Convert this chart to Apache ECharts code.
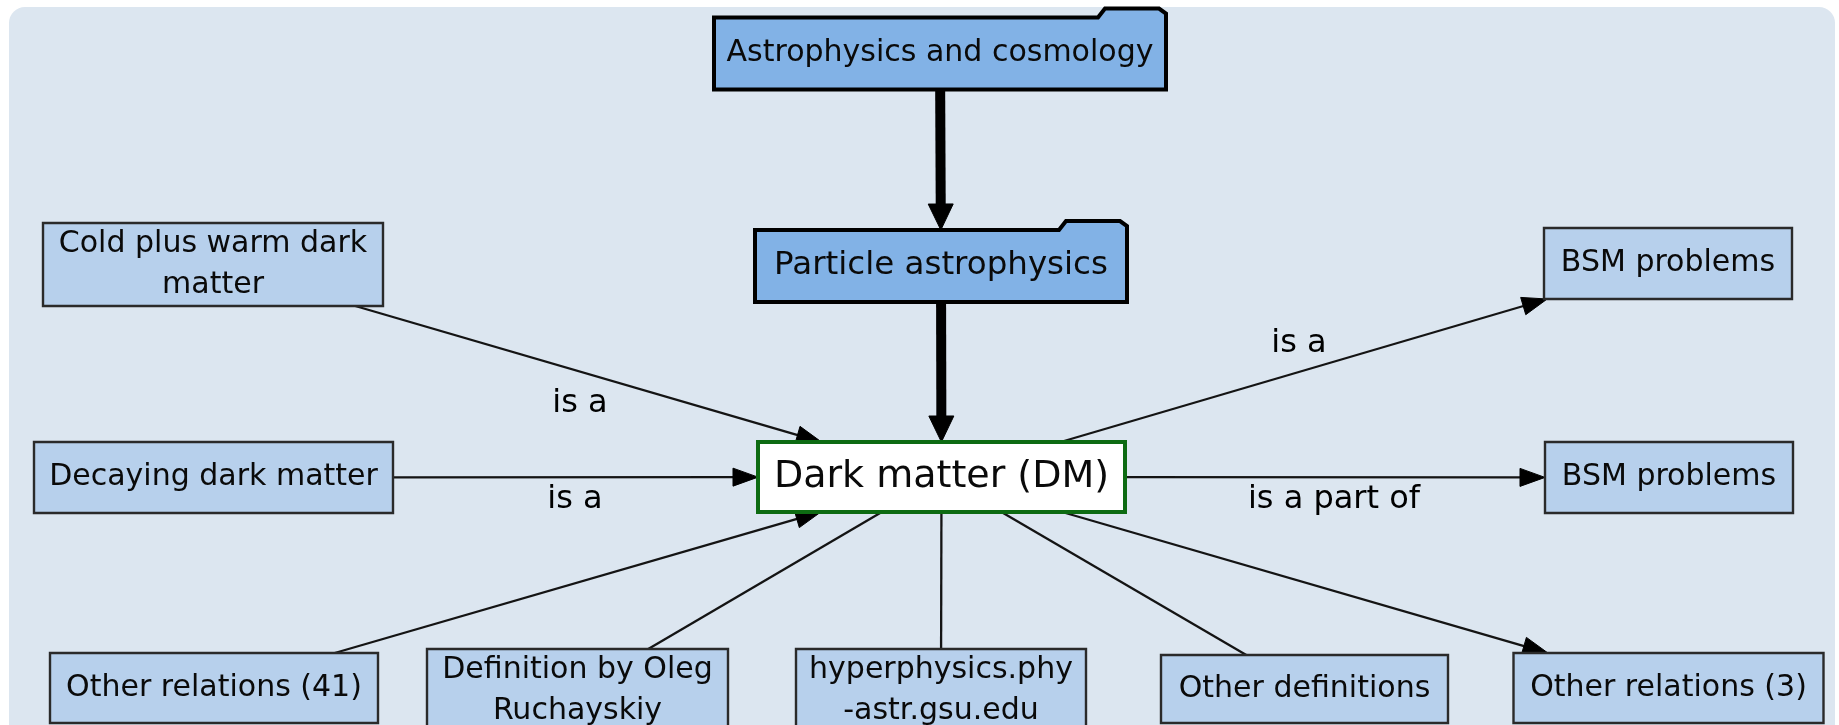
<!DOCTYPE html>
<html>
<head>
<meta charset="utf-8">
<script src="https://cdn.jsdelivr.net/npm/echarts@6/dist/echarts.min.js"></script>
<style>
html,body{margin:0;padding:0;background:#ffffff;}
#chart{width:1839px;height:725px;}
</style>
</head>
<body>
<div id="chart"></div>
<script>
// ---- data ----
var nodeNames = [
  'Astrophysics and cosmology',
  'Particle astrophysics',
  'Dark matter (DM)',
  'Cold plus warm dark\nmatter',
  'Decaying dark matter',
  'BSM problems',
  'BSM problems',
  'Other relations (41)',
  'Definition by Oleg\nRuchayskiy',
  'hyperphysics.phy\n-astr.gsu.edu',
  'Other definitions',
  'Other relations (3)'
];
var nodeKind = ['folder','folder','focus','plain','plain','plain','plain','plain','plain','plain','plain','plain'];
// node centres in diagram units
var nodeX = [940, 941, 941.5, 213, 213.5, 1668, 1669, 214, 577.5, 941, 1304.5, 1668.5];
var nodeY = [53.5, 266, 477, 264.5, 477.5, 263.5, 477.5, 688, 690.5, 690.5, 689, 688];
// edges: from, to, label, arrow, heavy
var edgeFrom  = [0, 1, 3, 4, 7, 2, 2, 2, 2, 2, 2];
var edgeTo    = [1, 2, 2, 2, 2, 8, 9, 10, 11, 5, 6];
var edgeLabel = ['', '', 'is a', 'is a', '', '', '', '', '', 'is a', 'is a part of'];
var edgeArrow = [1, 1, 1, 1, 1, 0, 0, 0, 1, 1, 1];
var edgeHeavy = [1, 1, 0, 0, 0, 0, 0, 0, 0, 0, 0];
var labelX = [0, 0, 580, 575, 0, 0, 0, 0, 0, 1299, 1334];
var labelY = [0, 0, 404, 500, 0, 0, 0, 0, 0, 344, 500];

// ---- styles / sizes ----
var boxW = [452, 372, 367, 340, 359, 248, 248, 328, 301, 290, 287, 310];
var boxH = [72, 72, 70, 83, 71, 71, 71, 70, 83, 83, 68, 70];
var boxFont = [30, 32.5, 38, 30, 30, 30, 30, 30, 30, 30, 30, 30];
var FONT = '"DejaVu Sans", "Noto Sans", sans-serif';

function clipPt(cx, cy, hw, hh, dx, dy) {
  var tx = dx === 0 ? Infinity : hw / Math.abs(dx);
  var ty = dy === 0 ? Infinity : hh / Math.abs(dy);
  var t = Math.min(tx, ty);
  return [cx + dx * t, cy + dy * t];
}

var chart = echarts.init(document.getElementById('chart'), null, {renderer: 'canvas'});

var edgeData = edgeFrom.map(function (f, i) { return [i]; });
var nodeData = nodeNames.map(function (n, i) { return [nodeX[i], nodeY[i], i]; });

chart.setOption({
  animation: false,
  backgroundColor: '#ffffff',
  graphic: [{
    type: 'rect', z: -10, silent: true,
    shape: {x: 9, y: 7, width: 1826, height: 760, r: 16},
    style: {fill: '#dce6f0'}
  }],
  grid: {left: 0, right: 0, top: 0, bottom: 0},
  xAxis: {type: 'value', min: 0, max: 1839, show: false},
  yAxis: {type: 'value', min: 0, max: 725, inverse: true, show: false},
  series: [
    {
      type: 'custom',
      z: 1,
      data: edgeData,
      renderItem: function (params, api) {
        var i = api.value(0);
        var a = edgeFrom[i], b = edgeTo[i];
        var pa = api.coord([nodeX[a], nodeY[a]]);
        var pb = api.coord([nodeX[b], nodeY[b]]);
        var dx = pb[0] - pa[0], dy = pb[1] - pa[1];
        var s = clipPt(pa[0], pa[1], boxW[a] / 2, boxH[a] / 2, dx, dy);
        var e = clipPt(pb[0], pb[1], boxW[b] / 2, boxH[b] / 2, -dx, -dy);
        var len = Math.sqrt(dx * dx + dy * dy);
        var ux = dx / len, uy = dy / len;
        var heavy = edgeHeavy[i] === 1;
        var lw = heavy ? 10 : 2.3;
        var aL = heavy ? 26 : 25;
        var aW = heavy ? 25 : 18;
        var children = [];
        var lineEnd = e;
        if (edgeArrow[i]) {
          lineEnd = [e[0] - ux * (aL - 2), e[1] - uy * (aL - 2)];
          var bx = e[0] - ux * aL, by = e[1] - uy * aL;
          var px = -uy * aW / 2, py = ux * aW / 2;
          children.push({
            type: 'polygon', z2: 2,
            shape: {points: [[e[0], e[1]], [bx + px, by + py], [bx - px, by - py]]},
            style: {fill: '#000000', stroke: '#000000', lineWidth: 1}
          });
        }
        children.push({
          type: 'line', z2: 1,
          shape: {x1: s[0], y1: s[1], x2: lineEnd[0], y2: lineEnd[1]},
          style: {stroke: heavy ? '#000000' : '#141414', lineWidth: lw}
        });
        if (edgeLabel[i]) {
          var lp = api.coord([labelX[i], labelY[i]]);
          children.push({
            type: 'text', z2: 3,
            x: lp[0], y: lp[1],
            style: {
              text: edgeLabel[i], fill: '#000000',
              font: '32px ' + FONT,
              align: 'center', verticalAlign: 'middle'
            }
          });
        }
        return {type: 'group', children: children};
      }
    },
    {
      type: 'custom',
      z: 2,
      data: nodeData,
      encode: {x: 0, y: 1},
      renderItem: function (params, api) {
        var i = api.value(2);
        var c = api.coord([api.value(0), api.value(1)]);
        var w = boxW[i], h = boxH[i];
        var L = c[0] - w / 2, R = c[0] + w / 2, T = c[1] - h / 2, B = c[1] + h / 2;
        var kind = nodeKind[i];
        var children = [];
        if (kind === 'folder') {
          var ts = R - 68;
          children.push({
            type: 'polygon',
            shape: {points: [[L, T], [ts, T], [ts + 7, T - 9], [R - 7, T - 9], [R, T - 4], [R, B], [L, B]]},
            style: {fill: '#82b2e6', stroke: '#000000', lineWidth: 4, lineJoin: 'miter'}
          });
        } else if (kind === 'focus') {
          children.push({
            type: 'rect',
            shape: {x: L, y: T, width: w, height: h},
            style: {fill: '#ffffff', stroke: '#0d6b12', lineWidth: 4}
          });
        } else {
          children.push({
            type: 'rect',
            shape: {x: L, y: T, width: w, height: h},
            style: {fill: '#b7d0ec', stroke: '#2a2a2a', lineWidth: 2.4}
          });
        }
        children.push({
          type: 'text',
          x: c[0], y: c[1],
          style: {
            text: nodeNames[i], fill: '#0a0a0a',
            font: boxFont[i] + 'px ' + FONT,
            align: 'center', verticalAlign: 'middle',
            lineHeight: 41
          }
        });
        return {type: 'group', children: children};
      }
    }
  ]
});
</script>
</body>
</html>
